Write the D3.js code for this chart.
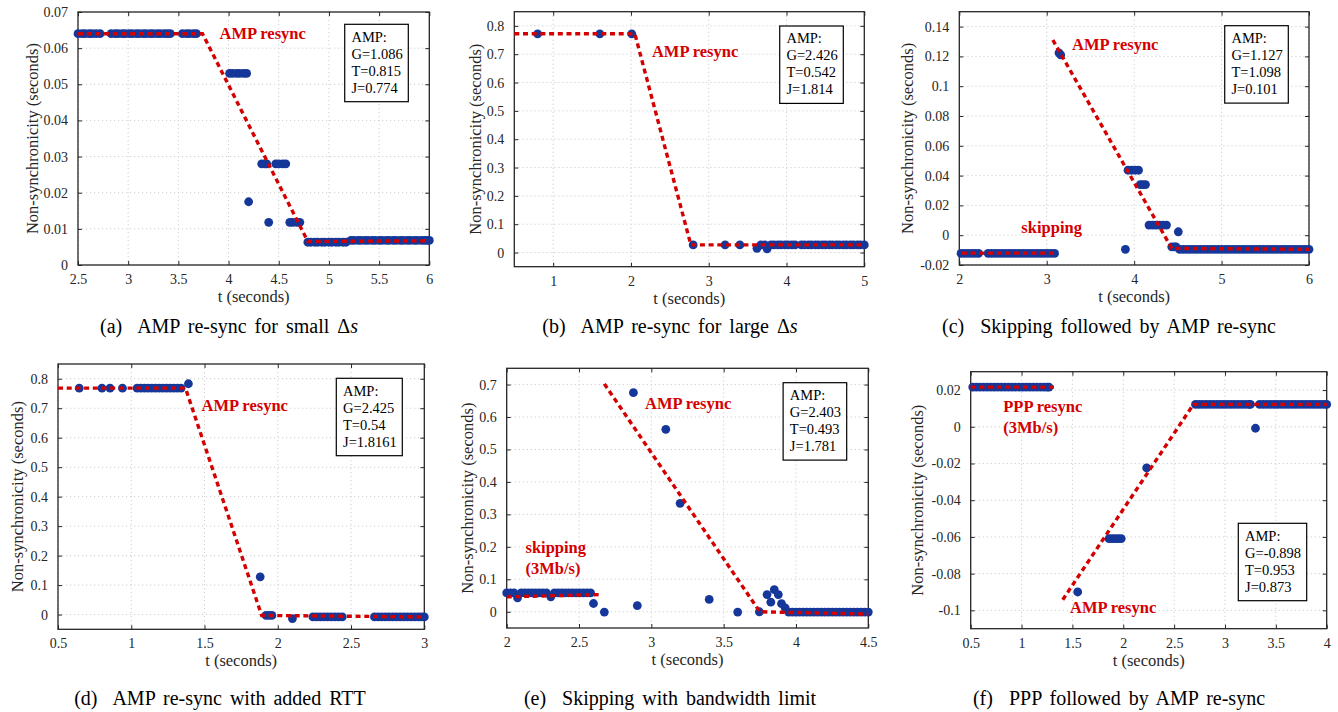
<!DOCTYPE html>
<html>
<head>
<meta charset="utf-8">
<script src="https://cdn.jsdelivr.net/npm/d3@7"></script>
<style>
  body { margin: 0; background: #fff; }
  svg { display: block; }
</style>
</head>
<body>
<svg id="chart"></svg>
<script>
// ---------- data (t in seconds, non-synchronicity in seconds) ----------

// (a) AMP re-sync for small delta s
const dotsA = [
  [2.50,0.064],[2.54,0.064],[2.57,0.064],[2.61,0.064],[2.64,0.064],[2.68,0.064],[2.72,0.064],
  [2.83,0.064],[2.87,0.064],[2.90,0.064],[2.94,0.064],[2.97,0.064],[3.01,0.064],[3.04,0.064],[3.08,0.064],
  [3.11,0.064],[3.15,0.064],[3.18,0.064],[3.22,0.064],[3.25,0.064],[3.29,0.064],[3.32,0.064],[3.36,0.064],
  [3.39,0.064],[3.42,0.064],
  [3.54,0.064],[3.58,0.064],[3.61,0.064],[3.65,0.064],[3.68,0.064],
  [4.01,0.053],[4.04,0.053],[4.08,0.053],[4.11,0.053],[4.15,0.053],[4.18,0.053],
  [4.33,0.028],[4.36,0.028],[4.38,0.028],
  [4.47,0.028],[4.50,0.028],[4.54,0.028],[4.57,0.028],
  [4.20,0.0175],[4.40,0.0118],
  [4.61,0.0118],[4.64,0.0118],[4.68,0.0118],[4.71,0.0118],
  [4.79,0.0063],[4.82,0.0063],[4.86,0.0063],[4.89,0.0063],[4.93,0.0063],[4.96,0.0063],[5.00,0.0063],
  [5.03,0.0063],[5.07,0.0063],[5.10,0.0063],[5.14,0.0063],[5.17,0.0063],
  [5.22,0.0068],[5.25,0.0068],[5.29,0.0068],[5.32,0.0068],[5.36,0.0068],[5.39,0.0068],[5.43,0.0068],
  [5.46,0.0068],[5.50,0.0068],[5.53,0.0068],[5.57,0.0068],[5.60,0.0068],[5.64,0.0068],[5.67,0.0068],
  [5.71,0.0068],[5.74,0.0068],[5.78,0.0068],[5.81,0.0068],[5.85,0.0068],[5.88,0.0068],[5.92,0.0068],
  [5.95,0.0068],[5.98,0.0068],[6.00,0.0068]
];
const fitA = [[[2.5,0.064],[3.74,0.064],[4.79,0.0065],[6.0,0.0067]]];

// (b) AMP re-sync for large delta s
const dotsB = [
  [0.80,0.772],[1.60,0.772],[2.01,0.772],
  [2.80,0.027],[3.21,0.027],[3.40,0.027],[3.62,0.015],[3.67,0.027],[3.72,0.027],[3.75,0.013],
  [3.80,0.027],[3.84,0.027],[3.89,0.027],[3.93,0.027],[3.98,0.027],[4.02,0.027],[4.07,0.027],[4.11,0.027],
  [4.19,0.027],[4.23,0.027],[4.28,0.027],[4.32,0.027],[4.37,0.027],[4.41,0.027],[4.46,0.027],[4.50,0.027],
  [4.55,0.027],[4.59,0.027],[4.64,0.027],[4.68,0.027],[4.73,0.027],[4.77,0.027],[4.82,0.027],[4.86,0.027],
  [4.91,0.027],[4.95,0.027],[5.00,0.027]
];
const fitB = [[[0.5,0.772],[2.05,0.772],[2.77,0.027],[5.0,0.027]]];

// (c) skipping followed by AMP re-sync
const dotsC = [
  [2.02,-0.0122],[2.06,-0.0122],[2.10,-0.0122],[2.14,-0.0122],[2.18,-0.0122],[2.22,-0.0122],
  [2.33,-0.0122],[2.37,-0.0122],[2.41,-0.0122],[2.45,-0.0122],[2.49,-0.0122],[2.53,-0.0122],[2.57,-0.0122],
  [2.61,-0.0122],[2.65,-0.0122],[2.69,-0.0122],[2.73,-0.0122],[2.77,-0.0122],[2.81,-0.0122],[2.85,-0.0122],
  [2.89,-0.0122],[2.93,-0.0122],[2.97,-0.0122],[3.01,-0.0122],[3.05,-0.0122],[3.09,-0.0122],
  [3.14,0.1224],[3.16,0.121],
  [3.90,-0.0095],
  [3.93,0.0436],[3.97,0.0436],[4.01,0.0436],[4.05,0.0436],
  [4.07,0.034],[4.10,0.034],[4.13,0.034],
  [4.17,0.0068],[4.21,0.0068],[4.25,0.0068],[4.29,0.0068],[4.33,0.0068],[4.37,0.0068],
  [4.505,0.0023],
  [4.43,-0.0078],[4.46,-0.0078],[4.48,-0.0078],
  [4.52,-0.0095],[4.56,-0.0095],[4.60,-0.0095],[4.64,-0.0095],[4.68,-0.0095],[4.72,-0.0095],[4.76,-0.0095],
  [4.80,-0.0095],[4.84,-0.0095],[4.88,-0.0095],[4.92,-0.0095],[4.96,-0.0095],[5.00,-0.0095],[5.04,-0.0095],
  [5.08,-0.0095],[5.12,-0.0095],[5.16,-0.0095],[5.20,-0.0095],[5.24,-0.0095],[5.28,-0.0095],[5.32,-0.0095],
  [5.36,-0.0095],[5.40,-0.0095],[5.44,-0.0095],[5.48,-0.0095],[5.52,-0.0095],[5.56,-0.0095],[5.60,-0.0095],
  [5.64,-0.0095],[5.68,-0.0095],[5.72,-0.0095],[5.76,-0.0095],[5.80,-0.0095],[5.84,-0.0095],[5.88,-0.0095],
  [5.92,-0.0095],[5.96,-0.0095],[6.00,-0.0095]
];
const fitC = [
  [[2.03,-0.012],[3.1,-0.012]],
  [[3.07,0.131],[4.43,-0.0088],[6.0,-0.0095]]
];

// (d) AMP re-sync with added RTT
const dotsD = [
  [0.645,0.768],[0.80,0.768],[0.855,0.768],[0.94,0.768],
  [1.04,0.768],[1.065,0.768],[1.09,0.768],[1.115,0.768],[1.14,0.768],[1.165,0.768],[1.19,0.768],
  [1.215,0.768],[1.24,0.768],[1.265,0.768],[1.29,0.768],[1.315,0.768],[1.34,0.768],
  [1.39,0.783],
  [1.88,0.128],
  [1.92,-0.003],[1.94,-0.003],[1.96,-0.003],
  [2.10,-0.0135],
  [2.24,-0.008],[2.265,-0.008],[2.29,-0.008],[2.315,-0.008],[2.34,-0.008],[2.365,-0.008],[2.39,-0.008],
  [2.415,-0.008],[2.44,-0.008],
  [2.66,-0.008],[2.685,-0.008],[2.71,-0.008],[2.735,-0.008],[2.76,-0.008],[2.785,-0.008],[2.81,-0.008],
  [2.835,-0.008],[2.86,-0.008],[2.885,-0.008],[2.91,-0.008],[2.935,-0.008],[2.96,-0.008],[2.98,-0.008],
  [3.00,-0.008]
];
const fitD = [[[0.5,0.768],[1.37,0.768],[1.89,-0.003],[3.0,-0.008]]];

// (e) skipping with bandwidth limit
const dotsE = [
  [2.00,0.058],[2.025,0.058],[2.05,0.058],[2.075,0.043],
  [2.10,0.058],[2.125,0.058],[2.15,0.058],[2.175,0.058],[2.20,0.058],[2.225,0.058],[2.25,0.058],[2.275,0.058],
  [2.305,0.046],
  [2.33,0.058],[2.355,0.058],[2.38,0.058],[2.405,0.058],[2.43,0.058],[2.455,0.058],[2.48,0.058],[2.505,0.058],
  [2.53,0.058],[2.555,0.058],[2.58,0.058],
  [2.60,0.0255],[2.675,-0.001],[2.876,0.675],[2.903,0.019],[3.10,0.562],[3.199,0.334],[3.40,0.038],
  [3.597,-0.001],[3.747,0.0],[3.80,0.053],[3.826,0.0295],[3.85,0.068],[3.878,0.053],[3.90,0.025],[3.925,0.012],
  [3.95,-0.001],[3.975,-0.001],[4.00,-0.001],[4.025,-0.001],[4.05,-0.001],[4.075,-0.001],[4.10,-0.001],
  [4.125,-0.001],[4.15,-0.001],[4.175,-0.001],[4.20,-0.001],[4.225,-0.001],[4.25,-0.001],[4.275,-0.001],
  [4.30,-0.001],[4.325,-0.001],[4.35,-0.001],[4.375,-0.001],[4.40,-0.001],[4.425,-0.001],[4.45,-0.001],
  [4.475,-0.001],[4.50,-0.001]
];
const fitE = [
  [[2.0,0.046],[2.65,0.053]],
  [[2.675,0.702],[3.75,0.0],[4.5,-0.007]]
];

// (f) PPP followed by AMP re-sync
const dotsF = [
  [0.52,0.0216],[0.555,0.0216],[0.59,0.0216],[0.625,0.0216],[0.66,0.0216],[0.695,0.0216],[0.73,0.0216],
  [0.765,0.0216],[0.80,0.0216],[0.835,0.0216],[0.87,0.0216],[0.905,0.0216],[0.94,0.0216],[0.975,0.0216],
  [1.01,0.0216],[1.045,0.0216],[1.08,0.0216],[1.115,0.0216],[1.15,0.0216],[1.185,0.0216],[1.22,0.0216],
  [1.25,0.0216],[1.27,0.0216],
  [1.552,-0.09],
  [1.86,-0.0609],[1.89,-0.0609],[1.92,-0.0609],[1.95,-0.0609],[1.98,-0.0609],
  [2.23,-0.0224],
  [2.71,0.0122],[2.745,0.0122],[2.78,0.0122],[2.815,0.0122],[2.85,0.0122],[2.885,0.0122],[2.92,0.0122],
  [2.955,0.0122],[2.99,0.0122],[3.025,0.0122],[3.06,0.0122],[3.095,0.0122],[3.13,0.0122],[3.165,0.0122],
  [3.20,0.0122],[3.235,0.0122],[3.25,0.0122],
  [3.30,-0.0008],
  [3.34,0.0122],[3.375,0.0122],[3.41,0.0122],[3.445,0.0122],[3.48,0.0122],[3.515,0.0122],[3.55,0.0122],
  [3.585,0.0122],[3.62,0.0122],[3.655,0.0122],[3.69,0.0122],[3.725,0.0122],[3.76,0.0122],[3.795,0.0122],
  [3.83,0.0122],[3.865,0.0122],[3.90,0.0122],[3.935,0.0122],[3.97,0.0122],[4.00,0.0122]
];
const fitF = [
  [[0.5,0.0216],[1.33,0.0216]],
  [[1.405,-0.0942],[2.69,0.0122],[4.0,0.0122]]
];

// axis domains and ticks
const xDomains = [[2.5,6],[0.5,5],[2,6],[0.5,3],[2,4.5],[0.5,4]];
const yDomains = [[0,0.07],[-0.05,0.85],[-0.02,0.15],[-0.05,0.85],[-0.05,0.75],[-0.11,0.03]];
const xTicks = [
  [2.5,3,3.5,4,4.5,5,5.5,6],
  [1,2,3,4,5],
  [2,3,4,5,6],
  [0.5,1,1.5,2,2.5,3],
  [2,2.5,3,3.5,4,4.5],
  [0.5,1,1.5,2,2.5,3,3.5,4]
];
const yTicks = [
  [0,0.01,0.02,0.03,0.04,0.05,0.06,0.07],
  [0,0.1,0.2,0.3,0.4,0.5,0.6,0.7,0.8],
  [-0.02,0,0.02,0.04,0.06,0.08,0.1,0.12,0.14],
  [0,0.1,0.2,0.3,0.4,0.5,0.6,0.7,0.8],
  [0,0.1,0.2,0.3,0.4,0.5,0.6,0.7],
  [-0.1,-0.08,-0.06,-0.04,-0.02,0,0.02]
];

// AMP parameters shown in the boxes
const ampStats = [
  ["AMP:","G=1.086","T=0.815","J=0.774"],
  ["AMP:","G=2.426","T=0.542","J=1.814"],
  ["AMP:","G=1.127","T=1.098","J=0.101"],
  ["AMP:","G=2.425","T=0.54","J=1.8161"],
  ["AMP:","G=2.403","T=0.493","J=1.781"],
  ["AMP:","G=-0.898","T=0.953","J=0.873"]
];

// red annotations: [t, value, lines]
const notes = [
  [[3.91,0.0625,["AMP resync"]]],
  [[2.27,0.691,["AMP resync"]]],
  [[3.29,0.124,["AMP resync"]],[2.71,0.0012,["skipping"]]],
  [[1.48,0.689,["AMP resync"]]],
  [[2.956,0.626,["AMP resync"]],[2.13,0.181,["skipping","(3Mb/s)"]]],
  [[0.82,0.008,["PPP resync","(3Mb/s)"]],[1.476,-0.1012,["AMP resync"]]]
];

const captions = [
  ["(a)", "AMP re-sync for small ", "Δ", "s"],
  ["(b)", "AMP re-sync for large ", "Δ", "s"],
  ["(c)", "Skipping followed by AMP re-sync"],
  ["(d)", "AMP re-sync with added RTT"],
  ["(e)", "Skipping with bandwidth limit"],
  ["(f)", "PPP followed by AMP re-sync"]
];

const allDots = [dotsA, dotsB, dotsC, dotsD, dotsE, dotsF];
const allFits = [fitA, fitB, fitC, fitD, fitE, fitF];

// ---------- layout ----------
const W = 1338, H = 712;
const FONT = "'Liberation Serif', 'Times New Roman', serif";
const DOT = "#16379a";
const RED = "#d40000";
const AX = "#262626";

// plot boxes [left, top, right, bottom], ylabel offset, caption center/baseline, stats box placement
const layout = [
  { box: [78, 12, 429.3, 265],     ylab: 40,   cap: [229, 333],  stat: { right: 21, top: 12.3 } },
  { box: [514.3, 11.7, 864.3, 266.7], ylab: 33, cap: [670, 333], stat: { right: 21, top: 14.3 } },
  { box: [959.3, 11.7, 1309, 265], ylab: 46,   cap: [1109, 333], stat: { right: 20.7, top: 14 } },
  { box: [58, 364, 424.3, 629.3],  ylab: 35.5, cap: [220, 705],  stat: { right: 22, top: 14.3 } },
  { box: [506.7, 368.3, 868.3, 628], ylab: 33.7, cap: [670, 705], stat: { right: 21.6, top: 14.4 } },
  { box: [970.7, 371.7, 1326.7, 628.7], ylab: 48, cap: [1119, 705], stat: { right: 20, bottom: 28 } }
];

const fmt = (v) => String(+v.toFixed(4));

const svg = d3.select("#chart")
  .attr("width", W)
  .attr("height", H)
  .attr("viewBox", `0 0 ${W} ${H}`)
  .style("font-family", FONT);

svg.append("rect").attr("width", W).attr("height", H).attr("fill", "#fff");

layout.forEach((L, i) => {
  const [x0, y0, x1, y1] = L.box;
  const x = d3.scaleLinear().domain(xDomains[i]).range([x0, x1]);
  const y = d3.scaleLinear().domain(yDomains[i]).range([y1, y0]);
  const g = svg.append("g");

  // grid
  g.append("g").selectAll("line").data(xTicks[i]).join("line")
    .attr("x1", (d) => x(d)).attr("x2", (d) => x(d))
    .attr("y1", y0).attr("y2", y1)
    .attr("stroke", "#cfcfcf").attr("stroke-width", 1).attr("stroke-dasharray", "1.2,2.8");
  g.append("g").selectAll("line").data(yTicks[i]).join("line")
    .attr("y1", (d) => y(d)).attr("y2", (d) => y(d))
    .attr("x1", x0).attr("x2", x1)
    .attr("stroke", "#cfcfcf").attr("stroke-width", 1).attr("stroke-dasharray", "1.2,2.8");

  // axes (inward ticks on all sides, MATLAB style)
  const tk = 4;
  const xb = d3.axisBottom(x).tickValues(xTicks[i]).tickFormat(fmt).tickSizeInner(-tk).tickSizeOuter(0).tickPadding(9);
  const xt = d3.axisTop(x).tickValues(xTicks[i]).tickFormat("").tickSizeInner(-tk).tickSizeOuter(0);
  const yl = d3.axisLeft(y).tickValues(yTicks[i]).tickFormat(fmt).tickSizeInner(-tk).tickSizeOuter(0).tickPadding(10);
  const yr = d3.axisRight(y).tickValues(yTicks[i]).tickFormat("").tickSizeInner(-tk).tickSizeOuter(0);

  const axes = [
    g.append("g").attr("transform", `translate(0,${y1})`).call(xb),
    g.append("g").attr("transform", `translate(0,${y0})`).call(xt),
    g.append("g").attr("transform", `translate(${x0},0)`).call(yl),
    g.append("g").attr("transform", `translate(${x1},0)`).call(yr)
  ];
  axes.forEach((a) => {
    a.attr("font-family", null);
    a.select(".domain").remove();
    a.selectAll("line").attr("stroke", AX).attr("stroke-width", 1);
    a.selectAll("text").attr("fill", AX).style("font-family", FONT).style("font-size", "14px");
  });

  g.append("rect")
    .attr("x", x0).attr("y", y0).attr("width", x1 - x0).attr("height", y1 - y0)
    .attr("fill", "none").attr("stroke", AX).attr("stroke-width", 1.3);

  // measured samples
  g.append("g").selectAll("circle").data(allDots[i]).join("circle")
    .attr("cx", (d) => x(d[0])).attr("cy", (d) => y(d[1]))
    .attr("r", 4.4).attr("fill", DOT);

  // fitted AMP / skipping lines
  const line = d3.line().x((d) => x(d[0])).y((d) => y(d[1]));
  g.append("g").selectAll("path").data(allFits[i]).join("path")
    .attr("d", line)
    .attr("fill", "none").attr("stroke", RED).attr("stroke-width", 3.4)
    .attr("stroke-dasharray", "5,3.7");

  // annotations
  notes[i].forEach(([t, v, lines]) => {
    const tx = g.append("text")
      .attr("x", x(t)).attr("y", y(v))
      .attr("fill", RED).attr("font-weight", "bold").style("font-size", "16.5px");
    lines.forEach((s, k) => {
      tx.append("tspan").attr("x", x(t)).attr("dy", k === 0 ? 0 : 21).text(s);
    });
  });

  // stats box
  const sg = g.append("g");
  const st = sg.append("text").style("font-size", "14.5px").attr("fill", "#000");
  ampStats[i].forEach((s, k) => {
    st.append("tspan").attr("x", 0).attr("y", k * 17).text(s);
  });
  const tw = st.node().getBBox().width;
  const bw = tw + 12.3;
  const bh = 77.4;
  const bx = x1 - L.stat.right - bw;
  const by = L.stat.top !== undefined ? y0 + L.stat.top : y1 - L.stat.bottom - bh;
  sg.insert("rect", "text")
    .attr("x", bx).attr("y", by).attr("width", bw).attr("height", bh)
    .attr("fill", "#fff").attr("stroke", "#000").attr("stroke-width", 1.2);
  st.attr("transform", `translate(${bx + 6.7},${by + 17.4})`);

  // axis labels
  g.append("text")
    .attr("x", (x0 + x1) / 2).attr("y", y1 + 37)
    .attr("text-anchor", "middle").attr("fill", AX).style("font-size", "16.5px")
    .text("t (seconds)");
  g.append("text")
    .attr("transform", `translate(${x0 - L.ylab},${(y0 + y1) / 2}) rotate(-90)`)
    .attr("text-anchor", "middle").attr("fill", AX).style("font-size", "16.5px")
    .text("Non-synchronicity (seconds)");

  // caption
  const c = captions[i];
  const cap = g.append("text")
    .attr("x", L.cap[0]).attr("y", L.cap[1])
    .attr("text-anchor", "middle").attr("fill", "#000")
    .style("font-size", "20px").style("word-spacing", "3px");
  cap.append("tspan").text(c[0] + "\u00a0 ");
  cap.append("tspan").text(c[1]);
  if (c.length > 2) {
    cap.append("tspan").text(c[2]);
    cap.append("tspan").attr("font-style", "italic").text(c[3]);
  }
});
</script>
</body>
</html>
